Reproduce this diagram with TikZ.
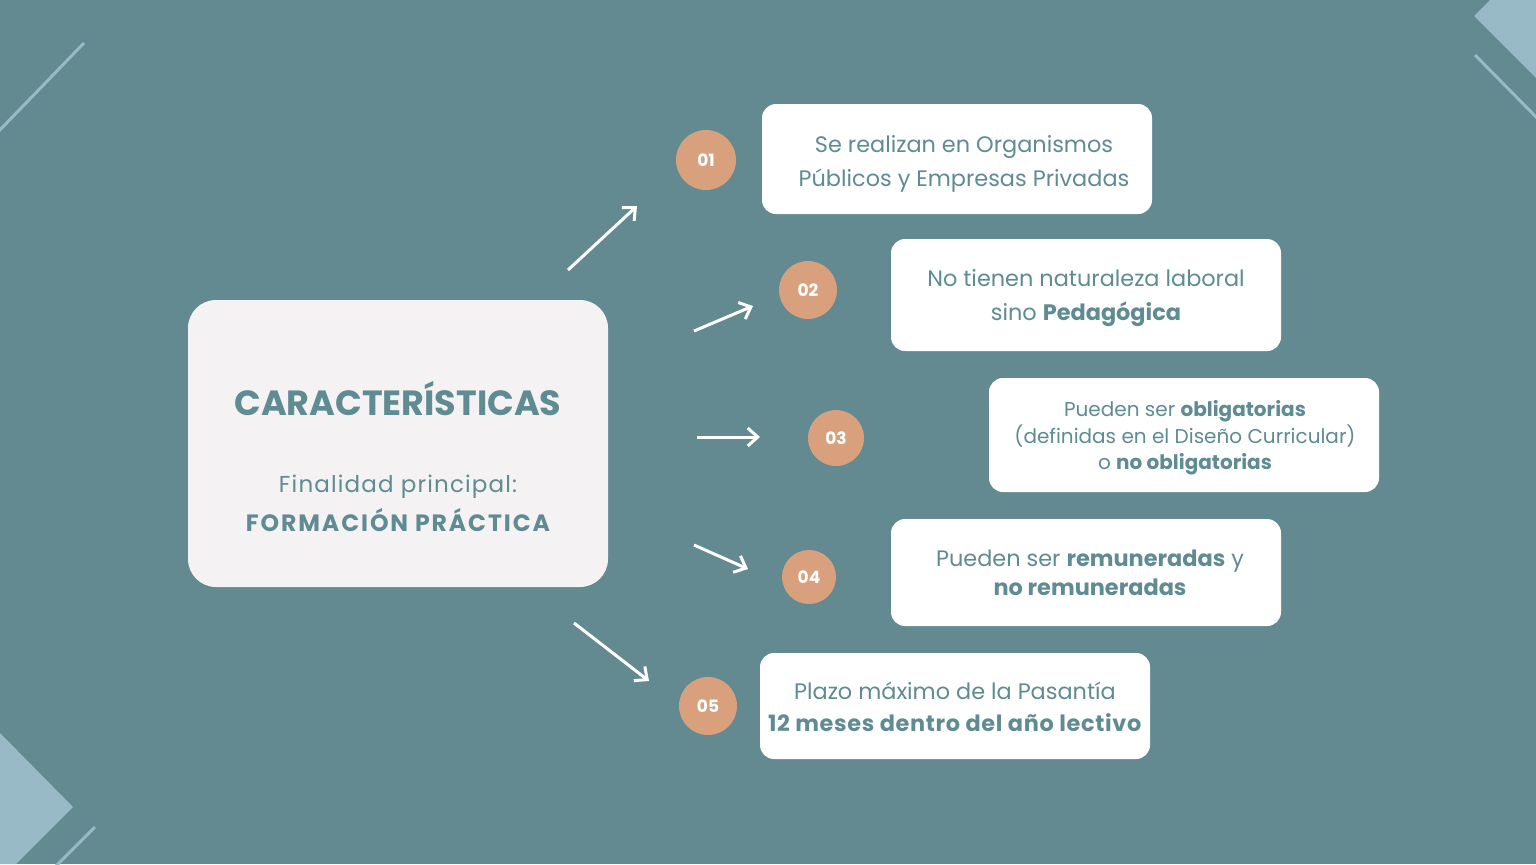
\documentclass[tikz,border=0pt]{standalone}
\usepackage{fontspec}
\setmainfont{Poppins}
\usetikzlibrary{arrows.meta}
\definecolor{bgc}{HTML}{638A90}
\definecolor{deco}{HTML}{97BAC6}
\definecolor{orng}{HTML}{D9A07D}
\definecolor{txt}{HTML}{5F8B92}
\definecolor{mainbox}{HTML}{F4F2F3}
\tikzset{
  card/.style={fill=white, rounded corners=7pt, inner sep=0pt},
  numdot/.style={circle, fill=orng, text=white, font=\bfseries\fontsize{8.5}{10}\selectfont, inner sep=0pt},
  cardtext/.style={text=txt, align=center, font=\fontsize{11.2}{17}\selectfont},
  arr/.style={draw=white, line width=1.5pt, -{Straight Barb[length=5pt,width=9pt,line width=1.5pt]}},
  decoline/.style={draw=deco, line width=1.5pt},
}
\begin{document}
\begin{tikzpicture}[x=0.5pt,y=-0.5pt]
\fill[bgc] (0,0) rectangle (1536,864);
\useasboundingbox (0,0) rectangle (1536,864);
% decorations
\fill[deco] (1474,16) -- (1490,0) -- (1536,0) -- (1536,78) -- cycle;
\draw[decoline] (1475,55) -- (1540,121);
\draw[decoline] (-4,134) -- (84,43);
\fill[deco] (0,733) -- (73,807) -- (16,864) -- (0,864) -- cycle;
\draw[decoline] (95,827) -- (55,867);
% main box
\fill[mainbox, rounded corners=14pt] (188,300) rectangle (608,587);
\node (main) at (398,443) {};
\node[text=txt, font=\bfseries\fontsize{17.5}{21}\selectfont] (title) at (398,399) {CARACTERÍSTICAS};
\node[text=txt, font=\fontsize{11.5}{14}\selectfont\addfontfeatures{LetterSpace=5}] (fin) at (398,487) {Finalidad principal:};
\node[text=txt, font=\bfseries\fontsize{11.8}{14}\selectfont\addfontfeatures{LetterSpace=8}] (form) at (398,520) {FORMACIÓN PRÁCTICA};
% cards
\fill[card] (762,104) rectangle (1152,214);
\fill[card] (891,239) rectangle (1281,351);
\fill[card] (989,378) rectangle (1379,492);
\fill[card] (891,519) rectangle (1281,626);
\fill[card] (760,653) rectangle (1150,759);
\node[cardtext] (t1) at (964,164) {Se realizan en Organismos\\Públicos y Empresas Privadas};
\node[cardtext] (t2) at (1086,298) {No tienen naturaleza laboral\\sino \textbf{Pedagógica}};
\node[cardtext, font=\fontsize{10}{13.2}\selectfont] (t3) at (1185,438) {Pueden ser \textbf{obligatorias}\\(definidas en el Diseño Curricular)\\o \textbf{no obligatorias}};
\node[cardtext, font=\fontsize{11.2}{14.5}\selectfont] (t4) at (1090,573) {Pueden ser \textbf{remuneradas} y\\\textbf{no remuneradas}};
\node[cardtext, font=\fontsize{11.2}{16}\selectfont] (t5) at (955,707) {Plazo máximo de la Pasantía\\{\addfontfeatures{LetterSpace=3}\textbf{12 meses dentro del año lectivo}}};
% number dots
\node[numdot, minimum size=30pt] (n1) at (706,160) {01};
\node[numdot, minimum size=29pt] (n2) at (808,290) {02};
\node[numdot, minimum size=28pt] (n3) at (836,438) {03};
\node[numdot, minimum size=27pt] (n4) at (809,577) {04};
\node[numdot, minimum size=29pt] (n5) at (708,706) {05};
% arrows
\coordinate (a1s) at (568,270); \coordinate (a1e) at (637,206);
\coordinate (a2s) at (694,331); \coordinate (a2e) at (753,306);
\coordinate (a3s) at (697,437); \coordinate (a3e) at (760,437);
\coordinate (a4s) at (694,545); \coordinate (a4e) at (748,569);
\coordinate (a5s) at (574,623); \coordinate (a5e) at (649,681);
\draw[arr] (a1s) -- (a1e);
\draw[arr] (a2s) -- (a2e);
\draw[arr] (a3s) -- (a3e);
\draw[arr] (a4s) -- (a4e);
\draw[arr] (a5s) -- (a5e);
\end{tikzpicture}
\end{document}
